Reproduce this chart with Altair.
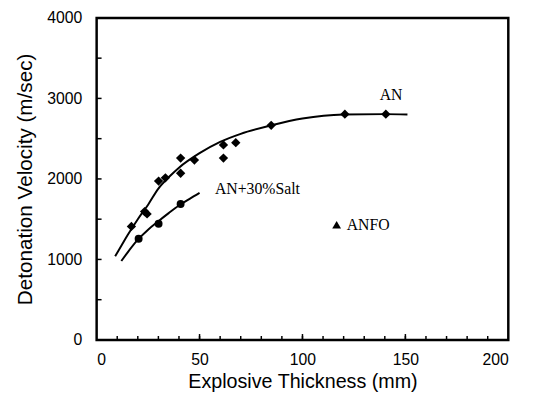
import altair as alt
import pandas as pd

# AN data points (diamonds)
an_x = [16.9, 23.3, 24.5, 30.1, 33.4, 40.8, 40.8, 47.5, 61.6, 61.6, 67.6, 84.8, 120.6, 140.5]
an_y = [1410, 1594, 1565, 1973, 2014, 2259, 2071, 2234, 2422, 2259, 2450, 2666, 2804, 2804]
# AN fitted curve
an_cx = [9, 12, 15, 20, 25, 30, 35, 40, 50, 60, 70, 85, 100, 120, 140, 151]
an_cy = [1040, 1170, 1300, 1500, 1680, 1880, 2020, 2140, 2320, 2460, 2560, 2666, 2750, 2800, 2805, 2800]
# AN+30%Salt points and curve
salt_x = [20.4, 30.1, 40.8]
salt_y = [1256, 1443, 1688]
salt_cx = [12, 15, 20, 25, 30, 35, 40, 45, 50]
salt_cy = [980, 1085, 1245, 1370, 1475, 1575, 1670, 1750, 1826]
# ANFO
anfo_x = [116.6]
anfo_y = [1431]
# labels
lab_text = ["AN", "AN+30%Salt", "ANFO"]
lab_x = [137.5, 57.5, 121.5]
lab_y = [3040, 1880, 1430]

x_minor = list(range(10, 200, 10))
x_major = [50, 100, 150]
y_ticks = [500, 1000, 1500, 2000, 2500, 3000, 3500]

W, H = 418, 327
xs = alt.Scale(domain=[0, 200], nice=False)
ys = alt.Scale(domain=[0, 4000], nice=False)

xaxis = alt.Axis(values=[0, 50, 100, 150, 200], format="d", ticks=False, domain=False, grid=False,
                 labelFont="Liberation Sans", labelFontSize=16, labelColor="black",
                 labelPadding=12, title="Explosive Thickness (mm)",
                 titleFont="Liberation Sans", titleFontSize=20, titleFontWeight="normal",
                 titleColor="black", titlePadding=4)
yaxis = alt.Axis(values=[0, 1000, 2000, 3000, 4000], format="d", ticks=False, domain=False, grid=False,
                 labelFont="Liberation Sans", labelFontSize=16, labelColor="black",
                 labelPadding=15, title="Detonation Velocity (m/sec)",
                 titleFont="Liberation Sans", titleFontSize=21, titleFontWeight="normal",
                 titleColor="black", titlePadding=12)

an_pts = pd.DataFrame({"x": an_x, "y": an_y})
an_curve = pd.DataFrame({"x": an_cx, "y": an_cy})
salt_pts = pd.DataFrame({"x": salt_x, "y": salt_y})
salt_curve = pd.DataFrame({"x": salt_cx, "y": salt_cy})
anfo = pd.DataFrame({"x": anfo_x, "y": anfo_y})
labs = pd.DataFrame({"t": lab_text, "x": lab_x, "y": lab_y})

base_line = alt.Chart(an_curve).mark_line(color="black", strokeWidth=2, interpolate="monotone").encode(
    x=alt.X("x:Q", scale=xs, axis=xaxis),
    y=alt.Y("y:Q", scale=ys, axis=yaxis),
)
salt_line = alt.Chart(salt_curve).mark_line(color="black", strokeWidth=2, interpolate="monotone").encode(
    x=alt.X("x:Q", scale=xs), y=alt.Y("y:Q", scale=ys))
an_marks = alt.Chart(an_pts).mark_point(shape="diamond", filled=True, color="black", size=90, opacity=1).encode(
    x=alt.X("x:Q", scale=xs), y=alt.Y("y:Q", scale=ys))
salt_marks = alt.Chart(salt_pts).mark_point(shape="circle", filled=True, color="black", size=65, opacity=1).encode(
    x=alt.X("x:Q", scale=xs), y=alt.Y("y:Q", scale=ys))
anfo_mark = alt.Chart(anfo).mark_point(shape="triangle-up", filled=True, color="black", size=80, opacity=1).encode(
    x=alt.X("x:Q", scale=xs), y=alt.Y("y:Q", scale=ys))
texts = alt.Chart(labs).mark_text(align="left", baseline="middle", font="Liberation Serif",
                                  fontSize=16, color="black").encode(
    x=alt.X("x:Q", scale=xs), y=alt.Y("y:Q", scale=ys), text="t:N")

xminor = alt.Chart(pd.DataFrame({"x": x_minor})).mark_rule(color="black", strokeWidth=1.5).encode(
    x=alt.X("x:Q", scale=xs), y=alt.value(H), y2=alt.value(H - 4))
xmajor = alt.Chart(pd.DataFrame({"x": x_major})).mark_rule(color="black", strokeWidth=1.5).encode(
    x=alt.X("x:Q", scale=xs), y=alt.value(H), y2=alt.value(H - 6))
yt = alt.Chart(pd.DataFrame({"y": y_ticks})).mark_rule(color="black", strokeWidth=1.5).encode(
    y=alt.Y("y:Q", scale=ys), x=alt.value(0), x2=alt.value(5))

chart = alt.layer(base_line, salt_line, an_marks, salt_marks, anfo_mark, texts, xminor, xmajor, yt).properties(
    width=W, height=H,
    autosize=alt.AutoSizeParams(type="none"),
    padding={"left": 90, "top": 7, "right": 20, "bottom": 63},
    background="white",
).configure_view(stroke="black", strokeWidth=2.5)

chart.save("out.html", embed_options={"renderer": "svg", "actions": False})
